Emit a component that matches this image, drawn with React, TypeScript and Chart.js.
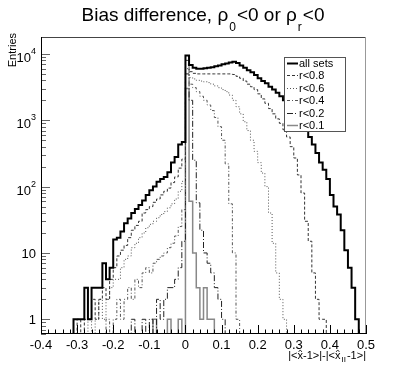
import React, { useEffect, useRef } from "react";
import { Chart, registerables } from "chart.js";

Chart.register(...registerables);

const FONT = "'Liberation Sans', Arial, Helvetica, sans-serif";

// ---------- data ----------
const BIN_WIDTH = 0.01;

const seriesLabels = ["all sets", "r<0.8", "r<0.6", "r<0.4", "r<0.2", "r<0.1"];

// low edge of first bin of each series
const allSetsStart = -0.31;
const allSets = [
  1, 1, 1, 3, 1, 3, 3, 3, 7, 4, 6, 16, 17, 21, 28, 33, 40, 46, 53, 62, 75, 88, 100, 118, 130, 140, 165, 230, 280, 430, 470,
  9500, 6800, 6200, 6000, 6000, 6100, 6200, 6300, 6500, 6700, 7000, 7200, 7400, 7600, 7300, 6700, 6200, 5700, 5300, 4800,
  4300, 3900, 3600, 3200, 2900, 2600, 2300, 2000, 1800, 1600, 1300, 1050, 900, 700, 560, 430, 320, 230, 180, 130, 75, 50,
  38, 22, 11, 6, 3, 1,
];

const r08Start = -0.3;
const r08 = [
  1, 0, 1, 1, 2, 1, 2, 3, 2, 4, 6, 9, 11, 13, 17, 22, 26, 30, 40, 45, 50, 58, 65, 75, 85, 95, 115, 140, 190, 260,
  8000, 5400, 5100, 5000, 5000, 5000, 5000, 5000, 5000, 5000, 5000, 5000, 5000, 4900, 4600, 4300, 3900, 3500, 3200, 2900,
  2500, 2100, 1800, 1500, 1250, 1050, 900, 720, 560, 400, 270, 150, 80, 30, 15, 5, 2, 1, 1,
];

const r06Start = -0.27;
const r06 = [
  1, 0, 1, 2, 1, 2, 3, 4, 4, 6, 8, 9, 12, 14, 17, 20, 24, 27, 30, 34, 38, 42, 48, 55, 65, 85, 120,
  7000, 4400, 4200, 4000, 3900, 3800, 3700, 3500, 3300, 3100, 2900, 2700, 2400, 2000, 1600, 1250, 950, 700, 500, 340,
  230, 160, 100, 40, 14, 5, 2, 1,
];

const r04Start = -0.22;
const r04 = [
  1, 0, 1, 2, 1, 2, 3, 2, 4, 3, 5, 6, 5, 7, 8, 9, 10, 12, 14, 18, 25, 45,
  6000, 3500, 3100, 2700, 2300, 2000, 1700, 1400, 1100, 800, 500, 220, 55, 10, 1,
];

const r02Start = -0.15;
const r02 = [
  1, 0, 0, 1, 0, 1, 0, 2, 1, 2, 3, 3, 4, 6, 15,
  5000, 2000, 250, 57, 22, 10, 7, 5, 3, 2, 1,
];

const r01Start = -0.09;
const r01 = [1, 0, 0, 0, 1, 0, 0, 1, 0, 3000, 60, 10, 3, 1, 3, 1, 1];

// axes
const xMin = -0.4;
const xMax = 0.5;
const yMin = 0.6;
const yMax = 18000;
const xTickValues = [-0.4, -0.3, -0.2, -0.1, 0, 0.1, 0.2, 0.3, 0.4, 0.5];
const xTickLabels = ["-0.4", "-0.3", "-0.2", "-0.1", "0", "0.1", "0.2", "0.3", "0.4", "0.5"];
const yTickValues = [1, 10, 100, 1000, 10000];
const yTickBases = ["1", "10", "10", "10", "10"];
const yTickExps = ["", "", "2", "3", "4"];

type Part = { t: string; sub?: boolean; hat?: boolean };

const titleParts: Part[] = [
  { t: "Bias difference, ρ" },
  { t: "0", sub: true },
  { t: "<0 or ρ" },
  { t: "r", sub: true },
  { t: "<0" },
];
const yTitle = "Entries";
const xTitleParts: Part[] = [
  { t: "|<" },
  { t: "x", hat: true },
  { t: "-1>|-|<" },
  { t: "x", hat: true },
  { t: "II", sub: true },
  { t: "-1>|" },
];

// ---------- helpers ----------
const FLOOR = 0.1; // empty bins drop below the axis minimum

function histPoints(start: number, counts: number[]) {
  const pts: { x: number; y: number }[] = [{ x: start, y: FLOOR }];
  counts.forEach((c, i) => {
    pts.push({ x: +(start + i * BIN_WIDTH).toFixed(5), y: c > 0 ? c : FLOOR });
  });
  pts.push({ x: +(start + counts.length * BIN_WIDTH).toFixed(5), y: FLOOR });
  return pts;
}

const styles = [
  { color: "#000000", width: 2, dash: [] as number[] },
  { color: "#333333", width: 1, dash: [3, 2] },
  { color: "#555555", width: 1, dash: [1, 2] },
  { color: "#555555", width: 1, dash: [3, 2, 1, 2] },
  { color: "#222222", width: 1, dash: [6, 2, 1, 2] },
  { color: "#888888", width: 1.5, dash: [] as number[] },
];

const seriesData = [
  histPoints(allSetsStart, allSets),
  histPoints(r08Start, r08),
  histPoints(r06Start, r06),
  histPoints(r04Start, r04),
  histPoints(r02Start, r02),
  histPoints(r01Start, r01),
];

function drawParts(
  ctx: CanvasRenderingContext2D,
  parts: Part[],
  x: number,
  y: number,
  size: number,
  subSize: number,
  subDrop: number,
  align: "center" | "right"
) {
  const widths = parts.map((p) => {
    ctx.font = `${p.sub ? subSize : size}px ${FONT}`;
    return ctx.measureText(p.t).width + (p.sub ? 2 : 0);
  });
  const total = widths.reduce((a, b) => a + b, 0);
  let cx = align === "center" ? x - total / 2 : x - total;
  ctx.textAlign = "left";
  ctx.textBaseline = "alphabetic";
  parts.forEach((p, i) => {
    ctx.font = `${p.sub ? subSize : size}px ${FONT}`;
    ctx.fillText(p.t, cx + (p.sub ? 1 : 0), p.sub ? y + subDrop : y);
    if (p.hat) {
      const w = widths[i];
      const top = y - size * 0.55 - 3;
      ctx.save();
      ctx.strokeStyle = ctx.fillStyle as string;
      ctx.lineWidth = 0.8;
      ctx.beginPath();
      ctx.moveTo(cx + w * 0.2, top + 2);
      ctx.lineTo(cx + w * 0.5, top);
      ctx.lineTo(cx + w * 0.8, top + 2);
      ctx.stroke();
      ctx.restore();
    }
    cx += widths[i];
  });
}

const rootDecor = {
  id: "rootDecor",
  afterDraw(chart: any) {
    const { ctx, chartArea: a, scales } = chart;
    const xs = scales.x;
    const ys = scales.y;
    ctx.save();
    ctx.lineWidth = 1;

    // x ticks (inside the frame)
    ctx.strokeStyle = "#000";
    for (let k = -20; k <= 25; k++) {
      const v = k * 0.02;
      const px = Math.round(xs.getPixelForValue(v)) + 0.5;
      const len = k % 5 === 0 ? 9 : 4.5;
      ctx.beginPath();
      ctx.moveTo(px, a.bottom);
      ctx.lineTo(px, a.bottom - len);
      ctx.stroke();
    }
    // y ticks
    ctx.strokeStyle = "#666";
    for (let d = -1; d <= 4; d++) {
      for (let m = 1; m <= 9; m++) {
        const v = m * Math.pow(10, d);
        if (v < yMin || v > yMax) continue;
        const py = Math.round(ys.getPixelForValue(v)) + 0.5;
        const len = m === 1 ? 9 : 5;
        ctx.beginPath();
        ctx.moveTo(a.left, py);
        ctx.lineTo(a.left + len, py);
        ctx.stroke();
      }
    }

    // frame
    ctx.strokeStyle = "#444";
    ctx.beginPath();
    ctx.moveTo(a.left, a.top + 0.5);
    ctx.lineTo(a.right, a.top + 0.5);
    ctx.stroke();
    ctx.strokeStyle = "#999";
    ctx.beginPath();
    ctx.moveTo(a.right - 0.5, a.top);
    ctx.lineTo(a.right - 0.5, a.bottom);
    ctx.stroke();
    ctx.strokeStyle = "#000";
    ctx.beginPath();
    ctx.moveTo(a.left + 0.5, a.top);
    ctx.lineTo(a.left + 0.5, a.bottom);
    ctx.moveTo(a.left, a.bottom - 0.5);
    ctx.lineTo(a.right, a.bottom - 0.5);
    ctx.stroke();

    // y labels with exponents
    ctx.fillStyle = "#000";
    yTickValues.forEach((v, i) => {
      const py = ys.getPixelForValue(v);
      const base = yTickBases[i];
      const exp = yTickExps[i];
      ctx.font = `9px ${FONT}`;
      const ew = exp ? ctx.measureText(exp).width : 0;
      ctx.font = `13px ${FONT}`;
      const bw = ctx.measureText(base).width;
      const right = a.left - 5;
      ctx.textAlign = "left";
      ctx.textBaseline = "alphabetic";
      const baseY = exp ? py + 8 : py + 5;
      ctx.fillText(base, right - ew - bw, baseY);
      if (exp) {
        ctx.font = `9px ${FONT}`;
        ctx.fillText(exp, right - ew, baseY - 8);
      }
    });

    // title
    ctx.fillStyle = "#000";
    drawParts(ctx, titleParts, 203, 21, 19, 12, 10, "center");

    // x axis title
    drawParts(ctx, xTitleParts, a.right, 359, 11, 8, 3, "right");

    // y axis title
    ctx.save();
    ctx.translate(16, 33);
    ctx.rotate(-Math.PI / 2);
    ctx.font = `11px ${FONT}`;
    ctx.textAlign = "right";
    ctx.textBaseline = "alphabetic";
    ctx.fillText(yTitle, 0, 0);
    ctx.restore();

    // legend
    const lx0 = 284.5;
    const ly0 = 57.5;
    const lw = 61;
    const lh = 74;
    ctx.fillStyle = "#fff";
    ctx.fillRect(lx0, ly0, lw, lh);
    ctx.strokeStyle = "#555";
    ctx.lineWidth = 1;
    ctx.setLineDash([]);
    ctx.strokeRect(lx0, ly0, lw, lh);
    chart.data.datasets.forEach((ds: any, i: number) => {
      const cy = Math.round(63 + i * 12.4) + 0.5;
      ctx.strokeStyle = ds.borderColor;
      ctx.lineWidth = ds.borderWidth;
      ctx.setLineDash(ds.borderDash || []);
      ctx.beginPath();
      ctx.moveTo(287, cy);
      ctx.lineTo(298, cy);
      ctx.stroke();
      ctx.setLineDash([]);
      ctx.fillStyle = "#000";
      ctx.font = `11px ${FONT}`;
      ctx.textAlign = "left";
      ctx.textBaseline = "middle";
      ctx.fillText(ds.label, 299, cy);
    });
    ctx.restore();
  },
};

export default function App() {
  const ref = useRef<HTMLCanvasElement>(null);
  useEffect(() => {
    document.body.style.margin = "0";
    const canvas = ref.current;
    if (!canvas) return;
    const chart = new Chart(canvas, {
      type: "line",
      data: {
        datasets: seriesData.map((d, i) => ({
          label: seriesLabels[i],
          data: d,
          borderColor: styles[i].color,
          borderWidth: styles[i].width,
          borderDash: styles[i].dash,
          pointRadius: 0,
          fill: false,
          stepped: "before" as const,
          tension: 0,
        })),
      },
      options: {
        animation: false,
        responsive: false,
        maintainAspectRatio: false,
        devicePixelRatio: 1,
        events: [],
        layout: { padding: { top: 37, right: 41, left: 0, bottom: 0 } },
        plugins: {
          legend: { display: false },
          title: { display: false },
          tooltip: { enabled: false },
        },
        scales: {
          x: {
            type: "linear",
            min: xMin,
            max: xMax,
            grid: { display: false, drawTicks: false },
            border: { display: false },
            afterFit: (s: any) => {
              s.height = 40;
            },
            afterBuildTicks: (s: any) => {
              s.ticks = xTickValues.map((v) => ({ value: v }));
            },
            ticks: {
              autoSkip: false,
              maxRotation: 0,
              padding: 4,
              color: "#000",
              font: { family: FONT, size: 13 },
              callback: (_v: any, i: number) => xTickLabels[i],
            },
          },
          y: {
            type: "logarithmic",
            min: yMin,
            max: yMax,
            grid: { display: false, drawTicks: false },
            border: { display: false },
            afterFit: (s: any) => {
              s.width = 41;
            },
            ticks: { display: false },
          },
        },
      },
      plugins: [rootDecor],
    });
    return () => chart.destroy();
  }, []);
  return (
    <div style={{ width: 407, height: 374 }}>
      <canvas ref={ref} width={407} height={374} style={{ display: "block", width: 407, height: 374 }} />
    </div>
  );
}
